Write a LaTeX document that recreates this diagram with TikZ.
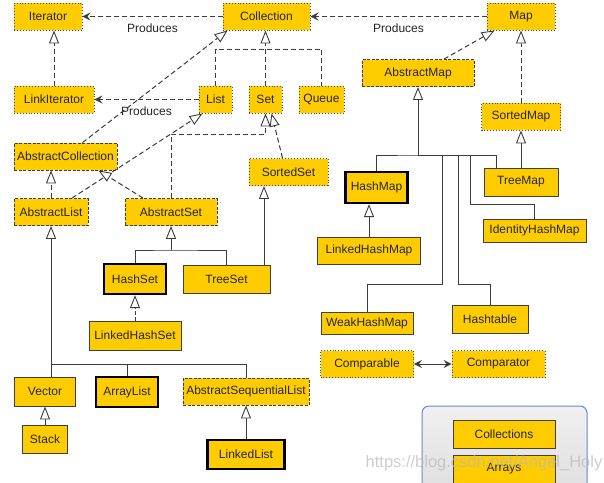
\documentclass[tikz,border=0pt]{standalone}
\usepackage{fontspec}
\setmainfont{Liberation Sans}
\usetikzlibrary{arrows.meta}
\definecolor{gold}{RGB}{255,204,0}
\definecolor{edge}{RGB}{60,60,60}
\definecolor{frameblue}{RGB}{105,135,200}
\tikzset{
  box/.style={fill=gold, inner sep=0pt, minimum height=27pt, text=black!85, font=\fontsize{12}{14}\selectfont},
  iface/.style={box, draw=black!70, dotted, line width=0.9pt},
  abstr/.style={box, draw=black!75, dash pattern=on 3pt off 1.5pt, line width=0.9pt},
  cls/.style={box, draw=black!75, line width=0.9pt},
  main/.style={box, draw=black, line width=2.2pt},
  link/.style={draw=edge, line width=1pt},
  ddash/.style={dash pattern=on 5pt off 3pt},
  ext/.style={link, -{Triangle[fill=white, length=13pt, width=10pt, line width=0.9pt]}},
  produce/.style={link, ddash, -{Stealth[length=8pt, width=8pt, inset=3pt]}},
  swap/.style={link, {Stealth[length=8pt, width=8pt, inset=3pt]}-{Stealth[length=8pt, width=8pt, inset=3pt]}},
  tag/.style={below=3pt, font=\fontsize{12}{14}\selectfont, text=black!85},
}
\begin{document}
\begin{tikzpicture}[x=1pt,y=-1pt]
    \clip (0,0) rectangle (604,482);
    \fill[white] (0,0) rectangle (604,482);
    \draw[frameblue, line width=1pt, rounded corners=7pt, top color=gray!12, bottom color=gray!28] (422,406) rectangle (587,510);

    \foreach \n/\x/\y/\w in {Iterator/48/16.5/68, Collection/266.5/16.5/87, Map/521/16.5/68,
        LinkIterator/54/99.5/80, List/215.5/99.5/33, Set/265.5/99.5/33, Queue/321.5/99.5/45,
        SortedMap/521/116.5/79, SortedSet/288.5/172/79, Comparable/367/364/93, Comparator/498.5/364/93}{
        \node[iface, minimum width=\w] (\n) at (\x,\y) {\n};
    }
    \foreach \n/\x/\y/\w in {AbstractMap/418/73/112, AbstractCollection/65.5/156.5/103,
        AbstractList/51/212/74, AbstractSet/171/212/92, AbstractSequentialList/246/391.5/126}{
        \node[abstr, minimum width=\w] (\n) at (\x,\y) {\n};
    }
    \foreach \n/\x/\y/\w/\h in {TreeMap/521/182/74/28, IdentityHashMap/534.5/230.5/103/23,
        LinkedHashMap/369/250.5/103/27, TreeSet/226.5/279/87/28, LinkedHashSet/135/335.5/92/29,
        WeakHashMap/367/323/92/22, Hashtable/490/319/76/28, Vector/45/391.5/61/29,
        Stack/45/439/45/28, Collections/504/434/102/28, Arrays/504/469/102/28}{
        \node[cls, minimum width=\w, minimum height=\h] (\n) at (\x,\y) {\n};
    }
    \foreach \n/\x/\y/\w/\h in {HashMap/376.5/187.5/62/31, HashSet/135/279/62/30,
        ArrayList/127/392/62/30, LinkedList/246/454.5/77/29}{
        \node[main, minimum width=\w, minimum height=\h] (\n) at (\x,\y) {\n};
    }

    \coordinate (collbar) at (266,49);
    \coordinate (setbar) at (171,250);
    \coordinate (listbar) at (51,364);
    \coordinate (mapbar) at (418,155);
    \coordinate (weakbend) at (442,284);
    \coordinate (tablebend) at (458,284);
    \coordinate (identbend) at (470,204);

    \draw[produce] (Collection.west) -- node[tag] (p1) {Produces} (Iterator.east);
    \draw[produce] (Map.west) -- node[tag] (p2) {Produces} (Collection.east);
    \draw[produce] (List.west) -- node[tag] (p3) {Produces} (LinkIterator.east);

    \draw[ext, ddash] (LinkIterator.north) -- (LinkIterator.north |- Iterator.south);
    \draw[link, ddash] (List.north) |- (collbar) -| (Queue.north);
    \draw[ext, ddash] (Set.north) -- (Set.north |- Collection.south);
    \draw[ext, ddash] ([xshift=17pt]AbstractCollection.north) -- ([xshift=5pt]Collection.south west);
    \draw[ext, ddash] ([xshift=21pt]AbstractList.north) -- ([xshift=4pt]List.south west);
    \draw[ext, ddash] (AbstractList.north) -- (AbstractCollection.south -| AbstractList.north);
    \draw[ext, ddash] ([xshift=-28pt]AbstractSet.north) -- ([xshift=33pt]AbstractCollection.south);
    \draw[ext, ddash] (AbstractSet.north) -- ++(0,-64) -| ([xshift=0pt]Set.south);
    \draw[ext, ddash] ([xshift=-6pt]SortedSet.north) -- ([xshift=6pt]Set.south);
    \draw[ext] ([xshift=37.5pt]TreeSet.north) -- ([xshift=-24.5pt]SortedSet.south);

    \draw[link] (HashSet.north) |- (setbar) -| (TreeSet.north);
    \draw[ext] (setbar) -- (AbstractSet.south);
    \draw[ext, dash pattern=on 4pt off 2pt] (LinkedHashSet.north) -- (HashSet.south);

    \draw[ext] (listbar) -- (AbstractList.south);
    \draw[link] (listbar) -- (listbar |- Vector.north);
    \draw[link] (listbar) -| (ArrayList.north);
    \draw[link] (listbar) -| (AbstractSequentialList.north);
    \draw[ext] (Stack.north) -- (Vector.south);
    \draw[ext] (LinkedList.north) -- (AbstractSequentialList.south);

    \draw[ext, ddash] ([xshift=26pt]AbstractMap.north) -- ([xshift=8pt]Map.south west);
    \draw[ext, ddash] (SortedMap.north) -- (Map.south);
    \draw[ext] (TreeMap.north -| SortedMap.south) -- (SortedMap.south);
    \draw[ext] (mapbar) -- (AbstractMap.south);
    \draw[link] (HashMap.north) |- (mapbar) -| ([xshift=-25pt]TreeMap.north);
    \draw[link] (WeakHashMap.north) |- (weakbend) |- (mapbar);
    \draw[link] (Hashtable.north) |- (tablebend) |- (mapbar);
    \draw[link] (IdentityHashMap.north) |- (identbend) |- (mapbar);
    \draw[ext] (LinkedHashMap.north) -- (LinkedHashMap.north |- HashMap.south);

    \draw[swap] (Comparable) -- (Comparator);

    \node[text=gray!55, opacity=0.7, font=\fontsize{16.5}{18}\selectfont] (mark) at (484,463) {https://blog.csdn.net/Angel\_Holy};
\end{tikzpicture}
\end{document}
